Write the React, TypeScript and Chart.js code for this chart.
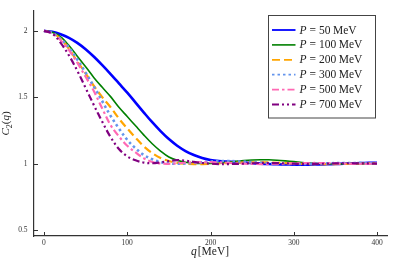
import React, { useEffect, useRef } from "react";
import { Chart, registerables } from "chart.js";

Chart.register(...registerables);

// ---------------- data ----------------
const qValues = [
  0, 10, 20, 30, 40, 50, 60, 70, 80, 90, 100, 110, 120, 130, 140, 150, 160, 170, 180, 190, 200,
  210, 220, 230, 240, 250, 260, 270, 280, 290, 300, 310, 320, 330, 340, 350, 360, 370, 380, 390, 400,
];

const momentumLabels = ["50", "100", "200", "300", "500", "700"];

const c2P50 = [
  2.0, 1.993, 1.975, 1.948, 1.91, 1.862, 1.805, 1.742, 1.675, 1.605, 1.535, 1.46, 1.385, 1.312, 1.245,
  1.185, 1.135, 1.095, 1.065, 1.043, 1.028, 1.02, 1.016, 1.013, 1.009, 1.004, 1.0, 0.997, 0.995, 0.994,
  0.993, 0.993, 0.993, 0.994, 0.995, 0.997, 1.0, 1.002, 1.004, 1.006, 1.007,
];
const c2P100 = [
  2.0, 1.99, 1.955, 1.89, 1.81, 1.73, 1.648, 1.575, 1.505, 1.425, 1.355, 1.285, 1.215, 1.15, 1.095,
  1.05, 1.025, 1.01, 1.004, 1.002, 1.002, 1.005, 1.011, 1.017, 1.023, 1.027, 1.029, 1.029, 1.026, 1.021,
  1.015, 1.009, 1.004, 1.001, 0.999, 0.998, 0.998, 0.999, 1.0, 1.001, 1.001,
];
const c2P200 = [
  2.0, 1.985, 1.94, 1.865, 1.77, 1.68, 1.585, 1.5, 1.425, 1.34, 1.265, 1.195, 1.13, 1.08, 1.043, 1.02,
  1.006, 0.999, 0.996, 0.996, 0.998, 1.001, 1.004, 1.007, 1.009, 1.01, 1.01, 1.009, 1.007, 1.004, 1.001,
  0.999, 0.997, 0.996, 0.996, 0.997, 0.998, 1.0, 1.001, 1.002, 1.003,
];
const c2P300 = [
  2.0, 1.985, 1.94, 1.875, 1.785, 1.685, 1.58, 1.47, 1.36, 1.265, 1.18, 1.115, 1.065, 1.033, 1.012,
  1.002, 0.999, 1.001, 1.006, 1.011, 1.016, 1.019, 1.02, 1.018, 1.015, 1.011, 1.007, 1.003, 1.0, 0.998,
  0.997, 0.997, 0.998, 1.0, 1.002, 1.004, 1.005, 1.005, 1.004, 1.003, 1.002,
];
const c2P500 = [
  2.0, 1.98, 1.93, 1.855, 1.76, 1.655, 1.545, 1.415, 1.29, 1.205, 1.135, 1.085, 1.04, 1.012, 1.001,
  0.999, 1.003, 1.007, 1.01, 1.012, 1.012, 1.01, 1.007, 1.003, 1.0, 0.998, 0.997, 0.997, 0.998, 1.0,
  1.002, 1.004, 1.005, 1.005, 1.004, 1.002, 1.0, 0.999, 0.998, 0.999, 1.0,
];
const c2P700 = [
  2.0, 1.98, 1.91, 1.815, 1.7, 1.57, 1.44, 1.315, 1.2, 1.11, 1.055, 1.025, 1.008, 1.003, 1.01, 1.02,
  1.026, 1.022, 1.013, 1.005, 1.0, 0.997, 0.997, 0.998, 1.0, 1.003, 1.005, 1.005, 1.004, 1.002, 1.0,
  0.998, 0.998, 0.999, 1.0, 1.002, 1.003, 1.003, 1.002, 1.001, 1.0,
];

const seriesValues = [c2P50, c2P100, c2P200, c2P300, c2P500, c2P700];

const xTickValues = [0, 100, 200, 300, 400];
const yTickValues = [0.5, 1, 1.5, 2];

// ---------------- styles ----------------
const seriesColors = ["#0000ff", "#008000", "#ffa500", "#6495ed", "#ff69b4", "#800080"];
const seriesWidths = [2.6, 1.6, 2.2, 2.6, 2.2, 2.2];
const seriesDashes: number[][] = [[], [], [8, 4], [2.5, 3], [7, 3, 2.5, 3], [7, 3, 2, 3, 2, 3]];

const SERIF = "'Liberation Serif', 'DejaVu Serif', serif";
const AXIS_COLOR = "#333333";

const decorPlugin = {
  id: "decor",
  afterDraw(chart: any) {
    const ctx: CanvasRenderingContext2D = chart.ctx;
    const { left, right, top, bottom } = chart.chartArea;
    const xs = chart.scales.x;
    const ys = chart.scales.y;
    ctx.save();
    // inward tick marks
    ctx.strokeStyle = AXIS_COLOR;
    ctx.lineWidth = 1;
    ctx.setLineDash([]);
    ctx.beginPath();
    xTickValues.forEach((v) => {
      const px = Math.round(xs.getPixelForValue(v)) + 0.5;
      ctx.moveTo(px, bottom);
      ctx.lineTo(px, bottom - 4);
    });
    yTickValues.forEach((v) => {
      const py = Math.round(ys.getPixelForValue(v)) + 0.5;
      ctx.moveTo(left, py);
      ctx.lineTo(left + 4, py);
    });
    ctx.stroke();

    ctx.fillStyle = "#222222";
    ctx.textBaseline = "alphabetic";

    // x-axis title: q[MeV]
    const xParts = [
      { t: "q", f: `italic 11.5px ${SERIF}` },
      { t: "[MeV]", f: `11.5px ${SERIF}` },
    ];
    let total = 0;
    xParts.forEach((p) => {
      ctx.font = p.f;
      total += ctx.measureText(p.t).width + 1;
    });
    let cx = (left + right) / 2 - total / 2;
    xParts.forEach((p) => {
      ctx.font = p.f;
      ctx.fillText(p.t, cx, 255);
      cx += ctx.measureText(p.t).width + 1;
    });

    // y-axis title: C_2(q)
    ctx.save();
    ctx.translate(9, (top + bottom) / 2);
    ctx.rotate(-Math.PI / 2);
    const yParts = [
      { t: "C", f: `italic 11px ${SERIF}`, dy: 0 },
      { t: "2", f: `8px ${SERIF}`, dy: 2.5 },
      { t: "(", f: `11px ${SERIF}`, dy: 0 },
      { t: "q", f: `italic 11px ${SERIF}`, dy: 0 },
      { t: ")", f: `11px ${SERIF}`, dy: 0 },
    ];
    let ytot = 0;
    yParts.forEach((p) => {
      ctx.font = p.f;
      ytot += ctx.measureText(p.t).width;
    });
    let yx = -ytot / 2;
    yParts.forEach((p) => {
      ctx.font = p.f;
      ctx.fillText(p.t, yx, p.dy);
      yx += ctx.measureText(p.t).width;
    });
    ctx.restore();

    // legend
    const bx = 268.5;
    const by = 15.5;
    const bw = 107;
    const bh = 102.5;
    ctx.fillStyle = "#ffffff";
    ctx.fillRect(bx, by, bw, bh);
    ctx.strokeStyle = "#444444";
    ctx.lineWidth = 1;
    ctx.strokeRect(bx, by, bw, bh);
    momentumLabels.forEach((lab, i) => {
      const yy = 30 + i * 14.9;
      ctx.save();
      ctx.strokeStyle = seriesColors[i];
      ctx.lineWidth = Math.min(seriesWidths[i], 1.8);
      ctx.setLineDash(seriesDashes[i]);
      ctx.beginPath();
      ctx.moveTo(272, yy);
      ctx.lineTo(295.5, yy);
      ctx.stroke();
      ctx.restore();
      ctx.fillStyle = "#222222";
      ctx.textBaseline = "middle";
      let tx = 299.5;
      ctx.font = `italic 11.5px ${SERIF}`;
      ctx.fillText("P", tx, yy + 0.5);
      tx += ctx.measureText("P").width + 3;
      ctx.font = `11.5px ${SERIF}`;
      ctx.fillText("=", tx, yy + 0.5);
      tx += ctx.measureText("=").width + 3;
      ctx.fillText(lab, tx, yy + 0.5);
      tx += ctx.measureText(lab).width + 2.5;
      ctx.fillText("MeV", tx, yy + 0.5);
    });
    ctx.restore();
  },
};

export default function App() {
  const canvasRef = useRef<HTMLCanvasElement | null>(null);

  useEffect(() => {
    document.body.style.margin = "0";
    const canvas = canvasRef.current;
    if (!canvas) return;
    const datasets = seriesValues.map((vals, i) => ({
      label: `P = ${momentumLabels[i]} MeV`,
      data: qValues.map((q, k) => ({ x: q, y: vals[k] })),
      borderColor: seriesColors[i],
      backgroundColor: seriesColors[i],
      borderWidth: seriesWidths[i],
      borderDash: seriesDashes[i],
      pointRadius: 0,
      fill: false,
      tension: 0.35,
      order: seriesValues.length - i,
    }));

    const chart = new Chart(canvas, {
      type: "line",
      data: { datasets },
      options: {
        animation: false,
        responsive: false,
        devicePixelRatio: 1,
        layout: { padding: { top: 7, right: 8, left: 0, bottom: 0 } },
        plugins: {
          legend: { display: false },
          tooltip: { enabled: false },
        },
        scales: {
          x: {
            type: "linear",
            min: -12,
            max: 412,
            grid: { display: false, drawTicks: false },
            border: { display: true, color: AXIS_COLOR, width: 1.2 },
            afterBuildTicks: (scale: any) => {
              scale.ticks = xTickValues.map((v) => ({ value: v }));
            },
            afterFit: (scale: any) => {
              scale.height = 27;
            },
            ticks: {
              color: "#333333",
              padding: 3,
              maxRotation: 0,
              font: { family: SERIF, size: 7.5 },
              callback: (v: any) => String(v),
            },
          },
          y: {
            type: "linear",
            min: 0.455,
            max: 2.15,
            grid: { display: false, drawTicks: false },
            border: { display: true, color: AXIS_COLOR, width: 1.2 },
            afterBuildTicks: (scale: any) => {
              scale.ticks = yTickValues.map((v) => ({ value: v }));
            },
            afterFit: (scale: any) => {
              scale.width = 34;
            },
            ticks: {
              color: "#333333",
              padding: 6.5,
              font: { family: SERIF, size: 7.5 },
              callback: (v: any) => String(v),
            },
          },
        },
      },
      plugins: [decorPlugin],
    });

    return () => {
      chart.destroy();
    };
  }, []);

  return (
    <div style={{ position: "fixed", left: 0, top: 0, width: 395, height: 263, background: "#fff" }}>
      <canvas ref={canvasRef} width={395} height={263} style={{ width: 395, height: 263 }} />
    </div>
  );
}
